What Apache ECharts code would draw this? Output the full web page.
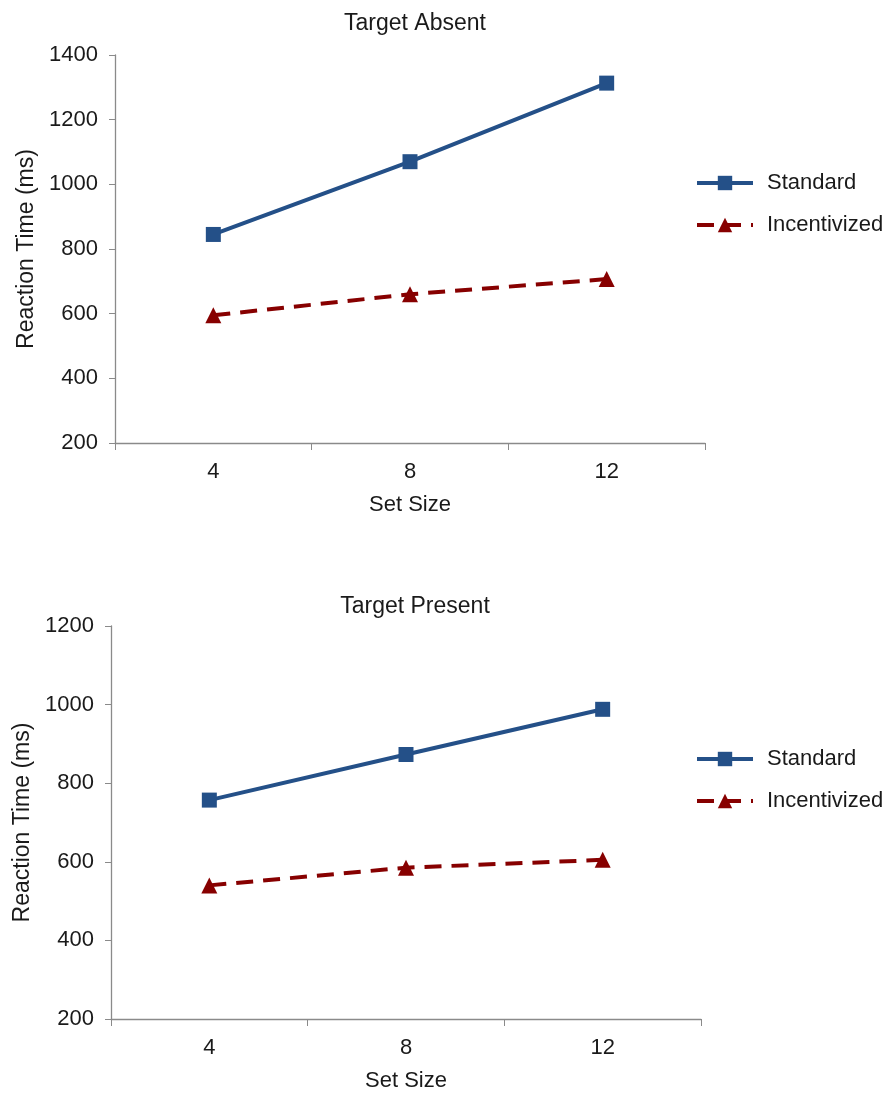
<!DOCTYPE html>
<html>
<head>
<meta charset="utf-8">
<script src="https://cdn.jsdelivr.net/npm/echarts@6/dist/echarts.min.js"></script>
<style>
  html, body { margin: 0; padding: 0; background: #fff; }
  #container { width: 891px; height: 1093px; }
</style>
</head>
<body>
<div id="container"></div>
<script>
var setSizes = ['4', '8', '12'];
var absentStandard = [845, 1070, 1313];
var absentIncentivized = [595, 660, 707];
var presentStandard = [757, 873, 988];
var presentIncentivized = [540, 585, 605];

var FONT = '"Liberation Sans", Arial, sans-serif';
var TEXT = '#1a1a1a';
var AXIS = '#8a8a8a';
var BLUE = '#245088';
var RED = '#870000';

var container = document.getElementById('container');
var charts = echarts.init(container, null, { renderer: 'canvas' });

// 两个坐标系共用的轴样式
function catAxis(idx) {
    return {
        type: 'category',
        gridIndex: idx,
        data: setSizes,
        boundaryGap: true,
        name: 'Set Size',
        nameLocation: 'middle',
        nameGap: 51,
        nameTextStyle: { fontFamily: FONT, fontSize: 22, color: TEXT },
        axisLine: { lineStyle: { color: AXIS, width: 1.3 } },
        axisTick: { show: true, interval: 0, alignWithLabel: false, length: 7, lineStyle: { color: AXIS } },
        axisLabel: { margin: 18, fontFamily: FONT, fontSize: 22, color: TEXT },
        splitLine: { show: false }
    };
}
function valAxis(idx, max) {
    return {
        type: 'value',
        gridIndex: idx,
        min: 200,
        max: max,
        interval: 200,
        name: 'Reaction Time (ms)',
        nameLocation: 'middle',
        nameGap: 72,
        nameTextStyle: { fontFamily: FONT, fontSize: 23, color: TEXT },
        axisLine: { show: true, lineStyle: { color: AXIS, width: 1.3 } },
        axisTick: { show: true, length: 6, lineStyle: { color: AXIS } },
        axisLabel: {
            margin: 17, fontFamily: FONT, fontSize: 22, color: TEXT,
            formatter: function (v) { return String(v); }
        },
        splitLine: { show: false }
    };
}
function standardSeries(idx, data) {
    return {
        name: 'Standard', type: 'line', xAxisIndex: idx, yAxisIndex: idx,
        data: data, symbol: 'rect', symbolSize: 15,
        lineStyle: { color: BLUE, width: 4 },
        itemStyle: { color: BLUE },
        animation: false
    };
}
function incentivizedSeries(idx, data) {
    return {
        name: 'Incentivized', type: 'line', xAxisIndex: idx, yAxisIndex: idx,
        data: data, symbol: 'triangle', symbolSize: 16,
        lineStyle: { color: RED, width: 4, type: [17, 10] },
        itemStyle: { color: RED },
        animation: false
    };
}
function legendAt(top) {
    return {
        left: 690, top: top, orient: 'vertical',
        itemWidth: 56, itemHeight: 18, itemGap: 20,
        data: ['Standard', 'Incentivized'],
        lineStyle: { width: 4 },
        textStyle: { fontFamily: FONT, fontSize: 22, color: TEXT, padding: [0, 0, 0, 9] },
        selectedMode: false
    };
}

var option = {
    backgroundColor: '#fff',
    title: [
        { text: 'Target Absent', left: 410, top: 7, textAlign: 'center',
          textStyle: { fontFamily: FONT, fontSize: 23, fontWeight: 'normal', color: TEXT } },
        { text: 'Target Present', left: 410, top: 590, textAlign: 'center',
          textStyle: { fontFamily: FONT, fontSize: 23, fontWeight: 'normal', color: TEXT } }
    ],
    legend: [legendAt(167), legendAt(743)],
    grid: [
        { left: 115, top: 55, width: 590, height: 388 },
        { left: 111, top: 626, width: 590, height: 393 }
    ],
    xAxis: [catAxis(0), catAxis(1)],
    yAxis: [valAxis(0, 1400), valAxis(1, 1200)],
    series: [
        standardSeries(0, absentStandard),
        incentivizedSeries(0, absentIncentivized),
        standardSeries(1, presentStandard),
        incentivizedSeries(1, presentIncentivized)
    ]
};
charts.setOption(option, true);
</script>
</body>
</html>
